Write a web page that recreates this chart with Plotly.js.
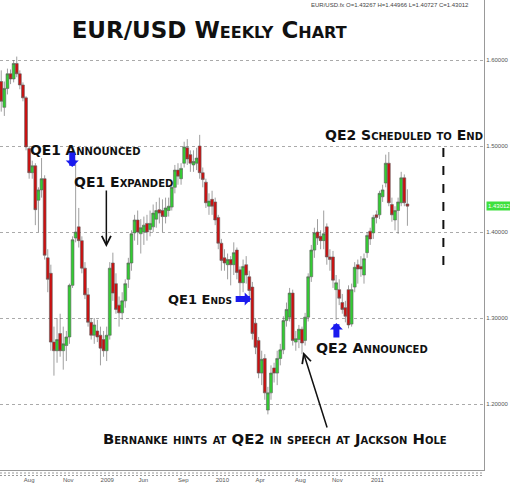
<!DOCTYPE html>
<html>
<head>
<meta charset="utf-8">
<script src="https://cdn.plot.ly/plotly-3.0.1.min.js"></script>
<style>
  html, body { margin: 0; padding: 0; background: #fff; }
  #weekly_chart { width: 510px; height: 485px; }
</style>
</head>
<body>
<div id="weekly_chart"></div>
<script>
// weekly EUR/USD bars (one entry per week)
var opens = [1.575,1.545,1.567,1.584,1.578,1.596,1.584,1.571,1.556,1.497,
  1.469,1.477,1.437,1.449,1.462,1.370,1.352,1.272,1.262,1.282,
  1.262,1.268,1.278,1.338,1.393,1.406,1.390,1.358,1.327,1.295,
  1.280,1.285,1.280,1.275,1.262,1.280,1.364,1.340,1.315,1.306,
  1.320,1.345,1.364,1.399,1.414,1.398,1.400,1.410,1.403,1.406,
  1.415,1.426,1.425,1.418,1.425,1.429,1.452,1.472,1.462,1.480,
  1.498,1.490,1.478,1.480,1.500,1.469,1.458,1.430,1.438,1.435,
  1.417,1.387,1.370,1.362,1.368,1.362,1.379,1.356,1.341,1.362,
  1.348,1.336,1.294,1.274,1.236,1.253,1.193,1.213,1.242,1.236,
  1.253,1.263,1.297,1.301,1.329,1.272,1.275,1.287,1.274,1.301,
  1.348,1.379,1.400,1.395,1.390,1.406,1.371,1.371,1.333,1.333,
  1.318,1.312,1.333,1.293,1.336,1.362,1.360,1.350,1.376,1.401,
  1.399,1.420,1.420,1.441,1.457,1.480,1.432,1.414,1.425,1.434,
  1.463,1.43267]
var highs = [1.588,1.575,1.590,1.589,1.600,1.604,1.588,1.574,1.558,1.500,
  1.483,1.480,1.452,1.486,1.466,1.380,1.362,1.290,1.300,1.305,
  1.290,1.285,1.340,1.395,1.484,1.428,1.395,1.365,1.335,1.300,
  1.300,1.298,1.290,1.285,1.290,1.365,1.376,1.352,1.325,1.330,
  1.345,1.370,1.402,1.420,1.425,1.415,1.418,1.420,1.425,1.432,
  1.435,1.440,1.438,1.440,1.440,1.458,1.478,1.480,1.480,1.505,
  1.508,1.495,1.495,1.498,1.513,1.475,1.462,1.445,1.448,1.440,
  1.420,1.392,1.380,1.375,1.372,1.388,1.382,1.360,1.368,1.372,
  1.355,1.342,1.300,1.278,1.262,1.258,1.220,1.245,1.248,1.262,
  1.270,1.302,1.318,1.335,1.333,1.285,1.292,1.290,1.306,1.352,
  1.385,1.405,1.415,1.402,1.425,1.410,1.380,1.378,1.350,1.345,
  1.328,1.320,1.338,1.340,1.365,1.368,1.372,1.375,1.400,1.405,
  1.420,1.425,1.448,1.455,1.490,1.493,1.440,1.430,1.440,1.470,
  1.467,1.44966]
var lows = [1.540,1.535,1.560,1.572,1.574,1.580,1.566,1.552,1.495,1.462,
  1.462,1.408,1.400,1.440,1.368,1.330,1.262,1.233,1.248,1.255,
  1.240,1.250,1.270,1.335,1.388,1.382,1.352,1.322,1.290,1.275,
  1.270,1.272,1.245,1.255,1.250,1.275,1.320,1.305,1.290,1.298,
  1.312,1.335,1.355,1.390,1.385,1.375,1.385,1.390,1.395,1.400,
  1.405,1.410,1.400,1.410,1.418,1.425,1.445,1.455,1.455,1.475,
  1.478,1.470,1.470,1.472,1.462,1.452,1.428,1.420,1.420,1.408,
  1.380,1.355,1.355,1.345,1.338,1.350,1.345,1.325,1.330,1.340,
  1.320,1.275,1.258,1.230,1.222,1.205,1.188,1.205,1.225,1.222,
  1.245,1.258,1.290,1.296,1.268,1.262,1.265,1.258,1.268,1.296,
  1.342,1.370,1.385,1.380,1.380,1.362,1.355,1.335,1.298,1.315,
  1.305,1.295,1.288,1.290,1.330,1.340,1.348,1.340,1.370,1.385,
  1.392,1.410,1.415,1.435,1.452,1.430,1.412,1.402,1.398,1.430,
  1.430,1.40727]
var closes = [1.552,1.567,1.584,1.578,1.596,1.584,1.571,1.556,1.499,1.469,
  1.477,1.426,1.449,1.462,1.373,1.345,1.272,1.262,1.275,1.262,
  1.270,1.278,1.338,1.391,1.400,1.390,1.358,1.327,1.295,1.280,
  1.292,1.278,1.265,1.262,1.280,1.358,1.329,1.310,1.306,1.320,
  1.340,1.364,1.398,1.414,1.400,1.405,1.408,1.400,1.410,1.422,
  1.425,1.422,1.418,1.428,1.430,1.452,1.472,1.465,1.474,1.499,
  1.485,1.480,1.482,1.486,1.469,1.461,1.434,1.436,1.430,1.414,
  1.387,1.367,1.364,1.368,1.362,1.376,1.353,1.341,1.360,1.350,
  1.332,1.282,1.266,1.236,1.252,1.213,1.213,1.236,1.236,1.253,
  1.263,1.297,1.310,1.329,1.274,1.276,1.287,1.271,1.301,1.348,
  1.379,1.399,1.393,1.390,1.398,1.371,1.368,1.344,1.341,1.323,
  1.310,1.302,1.292,1.333,1.359,1.357,1.357,1.369,1.396,1.392,
  1.417,1.417,1.445,1.449,1.480,1.434,1.420,1.425,1.435,1.463,
  1.434,1.43012]

// month labels along the bottom and the week they sit under
var tickWeeks = [9, 21.6, 34.2, 45.8, 58.7, 71.3, 83.5, 96.5, 108.4, 121.3]
var tickNames = ['Aug', 'Nov', '2009', 'Jun', 'Sep', '2010', 'Apr', 'Aug', 'Nov', '2011']
var priceTicks = [1.2, 1.3, 1.4, 1.5, 1.6]

var weeks = []
for (var i = 0; i < closes.length; i++) weeks.push(i)
var lastClose = closes[closes.length - 1]

function capsFont(size) {
    return { family: 'DejaVu Sans, Arial, sans-serif', size: size, color: '#111', weight: 'bold', variant: 'small-caps' }
}
function note(txt, x, y, size) {
    return { text: txt, x: x, y: y, xref: 'x', yref: 'y', showarrow: false, font: capsFont(size) }
}
// empty-text annotation used only for its arrow (tiny font so the arrow is not shortened)
function arrow(x, y, ax, ay, color, w) {
    var block = w > 2
    return { text: '', x: x, y: y, xref: 'x', yref: 'y', showarrow: true, ax: ax, ay: ay,
        font: { size: 1 }, borderpad: 0,
        arrowcolor: color, arrowwidth: w, arrowhead: block ? 1 : 5, arrowsize: block ? 0.36 : 1.2 }
}
// dotted rows under the time axis
function dotRow(y) {
    return { type: 'line', xref: 'paper', yref: 'paper', x0: 0, x1: 1, y0: y, y1: y,
        line: { color: '#999', width: 1, dash: '2px,2px' } }
}

var data = [{
    type: 'candlestick',
    x: weeks, open: opens, high: highs, low: lows, close: closes,
    increasing: { line: { color: '#5e5e5e', width: 0.6 }, fillcolor: '#33cc33' },
    decreasing: { line: { color: '#5e5e5e', width: 0.6 }, fillcolor: '#cc1010' },
    whiskerwidth: 0,
    hoverinfo: 'skip'
}]

var layout = {
    width: 510, height: 485,
    margin: { l: 0, r: 26, t: 0, b: 15 },
    paper_bgcolor: '#fff', plot_bgcolor: '#fff',
    showlegend: false,
    boxgap: 0.08, boxgroupgap: 0,
    title: { text: 'EUR/USD Weekly Chart', x: 0.41, xanchor: 'center', y: 0.955, yref: 'container',
        font: { family: 'DejaVu Sans, Arial, sans-serif', size: 23, color: '#111', weight: 'bold', variant: 'small-caps' } },
    xaxis: {
        range: [-0.4, 155.7], rangeslider: { visible: false },
        tickvals: tickWeeks, ticktext: tickNames,
        tickfont: { family: 'Arial', size: 6, color: '#555' },
        showgrid: false, zeroline: false,
        showline: true, linecolor: '#999', linewidth: 1,
        ticks: '', ticklabelstandoff: 4
    },
    yaxis: {
        side: 'right', range: [1.1233, 1.6698],
        tickvals: priceTicks, tickformat: '.5f',
        tickfont: { family: 'Arial', size: 6, color: '#555' },
        showgrid: true, gridcolor: '#aaa', griddash: 'dot', gridwidth: 1,
        zeroline: false, showline: true, linecolor: '#999', linewidth: 1,
        ticks: '', fixedrange: true
    },
    shapes: [
        { type: 'line', xref: 'x', yref: 'y', x0: 142.6, x1: 142.6, y0: 1.3616, y1: 1.5035,
          line: { color: '#111', width: 2, dash: 'dash' } },
        dotRow(-0.0064),
        dotRow(-0.0117)
    ],
    annotations: [
        { text: 'EUR/USD.fx O=1.43267 H=1.44966 L=1.40727 C=1.43012', xref: 'paper', yref: 'paper',
          x: 0.805, y: 1, xanchor: 'center', yanchor: 'top', showarrow: false,
          font: { family: 'Arial', size: 6, color: '#444' } },
        { text: lastClose.toFixed(5), xref: 'paper', yref: 'y', x: 1.004, y: lastClose, xanchor: 'left',
          showarrow: false, bgcolor: '#3ee03e', borderpad: 1, font: { family: 'Arial', size: 6, color: '#fff' } },
        note('QE1 Announced', 26.9, 1.4953, 13.8),
        note('QE1 Expanded', 39.5, 1.4581, 14),
        note('QE2 Scheduled to End', 130, 1.5128, 14),
        note('QE1 Ends', 64.2, 1.3221, 13),
        note('QE2 Announced', 119.5, 1.2651, 14.2),
        note('Bernanke hints at QE2 in speech at Jackson Hole', 88.2, 1.1605, 14.8),
        arrow(22.9, 1.4756, 0, -15, '#1a1aee', 6),
        arrow(80.6, 1.3221, -16, 0, '#1a1aee', 6),
        arrow(108.1, 1.2942, 0, 15, '#1a1aee', 6),
        arrow(33.9, 1.3826, 0, -57, '#111', 1.5),
        arrow(97.4, 1.2605, 24, 76, '#111', 1.5)
    ]
}

Plotly.newPlot('weekly_chart', data, layout, { staticPlot: true, displayModeBar: false })
</script>
</body>
</html>
